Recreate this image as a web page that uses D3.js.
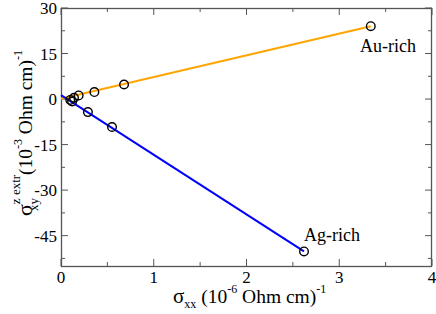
<!DOCTYPE html>
<html>
<head>
<meta charset="utf-8">
<script src="https://cdn.jsdelivr.net/npm/d3@7"></script>
<style>
  body { margin: 0; background: #fff; }
  svg text { font-family: "Liberation Serif", "Times New Roman", Times, "DejaVu Serif", serif; fill: #000; }
</style>
</head>
<body>
<div id="chart"></div>
<script>
// Au-rich series (orange)
const auX = [0.14, 0.19, 0.36, 0.68, 3.34];
const auY = [0.4, 1.2, 2.3, 4.8, 24.0];
const auFitX = [0, 3.34];
const auFitY = [0.1, 24.0];

// Ag-rich series (blue)
const agX = [0.10, 0.12, 0.29, 0.55, 2.62];
const agY = [-0.3, -0.8, -4.3, -9.2, -50.2];
const agFitX = [0, 2.62];
const agFitY = [1.3, -50.2];

const xTicks = [0, 1, 2, 3, 4];
const yTicks = [30, 15, 0, -15, -30, -45];

const width = 436, height = 314;
const margin = { left: 61, right: 4, top: 8, bottom: 48 };

const svg = d3.select("#chart").append("svg").attr("width", width).attr("height", height)
  .attr("font-family", "'Liberation Serif', 'Times New Roman', serif");

const x = d3.scaleLinear().domain([0, 4]).range([margin.left, width - margin.right]);
const y = d3.scaleLinear().domain([-55, 30]).range([height - margin.bottom, margin.top]);

const x0 = x.range()[0], x1 = x.range()[1];
const y0 = y.range()[0], y1 = y.range()[1];
const frameColor = "#555";

// ticks (inward, mirrored on all sides)
const xMinor = d3.range(0.5, 4, 1);
const yMinor = d3.range(-52.5, 30, 15);
const tickG = svg.append("g").attr("stroke", frameColor).attr("stroke-width", 1);
xTicks.forEach(v => {
  tickG.append("line").attr("x1", x(v)).attr("x2", x(v)).attr("y1", y0).attr("y2", y0 - 7);
  tickG.append("line").attr("x1", x(v)).attr("x2", x(v)).attr("y1", y1).attr("y2", y1 + 7);
});
xMinor.forEach(v => {
  tickG.append("line").attr("x1", x(v)).attr("x2", x(v)).attr("y1", y0).attr("y2", y0 - 4);
  tickG.append("line").attr("x1", x(v)).attr("x2", x(v)).attr("y1", y1).attr("y2", y1 + 4);
});
yTicks.forEach(v => {
  tickG.append("line").attr("x1", x0).attr("x2", x0 + 7).attr("y1", y(v)).attr("y2", y(v));
  tickG.append("line").attr("x1", x1).attr("x2", x1 - 7).attr("y1", y(v)).attr("y2", y(v));
});
yMinor.forEach(v => {
  tickG.append("line").attr("x1", x0).attr("x2", x0 + 4).attr("y1", y(v)).attr("y2", y(v));
  tickG.append("line").attr("x1", x1).attr("x2", x1 - 4).attr("y1", y(v)).attr("y2", y(v));
});

// frame
svg.append("rect")
  .attr("x", x0 + 0.5).attr("y", y1 + 0.5)
  .attr("width", x1 - x0 - 1).attr("height", y0 - y1)
  .attr("fill", "none").attr("stroke", frameColor).attr("stroke-width", 1.3);

// tick labels
svg.append("g").selectAll("text").data(xTicks).join("text")
  .attr("x", d => x(d)).attr("y", y0 + 17)
  .attr("text-anchor", "middle").attr("font-size", 17)
  .text(d => d);
svg.append("g").selectAll("text").data(yTicks).join("text")
  .attr("x", x0 - 4).attr("y", d => y(d) + 6)
  .attr("text-anchor", "end").attr("font-size", 17)
  .text(d => d);

// fit lines
const line = d3.line().x(d => x(d[0])).y(d => y(d[1]));
svg.append("path").datum(d3.zip(auFitX, auFitY))
  .attr("d", line).attr("fill", "none").attr("stroke", "#ffa500").attr("stroke-width", 2);
svg.append("path").datum(d3.zip(agFitX, agFitY))
  .attr("d", line).attr("fill", "none").attr("stroke", "#0000ff").attr("stroke-width", 2);

// markers
const pts = d3.zip(auX, auY).concat(d3.zip(agX, agY));
svg.append("g").selectAll("circle").data(pts).join("circle")
  .attr("cx", d => x(d[0])).attr("cy", d => y(d[1])).attr("r", 4.3)
  .attr("fill", "none").attr("stroke", "#000").attr("stroke-width", 1.4);

// annotations
svg.append("text").attr("x", 360).attr("y", 52).attr("font-size", 18).text("Au-rich");
svg.append("text").attr("x", 304).attr("y", 241).attr("font-size", 18).text("Ag-rich");

// x title
const xt = svg.append("text").attr("x", 173).attr("y", 303).attr("font-size", 19.5);
xt.append("tspan").attr("font-size", 21).text("σ");
xt.append("tspan").attr("font-size", 12).attr("dy", 5).text("xx");
xt.append("tspan").attr("dy", -5).text(" (10");
xt.append("tspan").attr("font-size", 12).attr("dy", -10).text("-6");
xt.append("tspan").attr("dy", 10).text(" Ohm cm)");
xt.append("tspan").attr("font-size", 12).attr("dy", -10).text("-1");

// y title
const yt = svg.append("text")
  .attr("transform", "translate(32,216) rotate(-90)")
  .attr("font-size", 19.5);
yt.append("tspan").attr("font-size", 22).text("σ");
yt.append("tspan").attr("font-size", 13).attr("dy", -12).text("z extr");
yt.append("tspan").attr("font-size", 13).attr("dx", -36).attr("dy", 18).text("xy");
yt.append("tspan").attr("dx", 18).attr("dy", -6).text(" (10");
yt.append("tspan").attr("font-size", 12).attr("dy", -10).text("-3");
yt.append("tspan").attr("dy", 10).text(" Ohm cm)");
yt.append("tspan").attr("font-size", 12).attr("dy", -10).text("-1");
</script>
</body>
</html>
